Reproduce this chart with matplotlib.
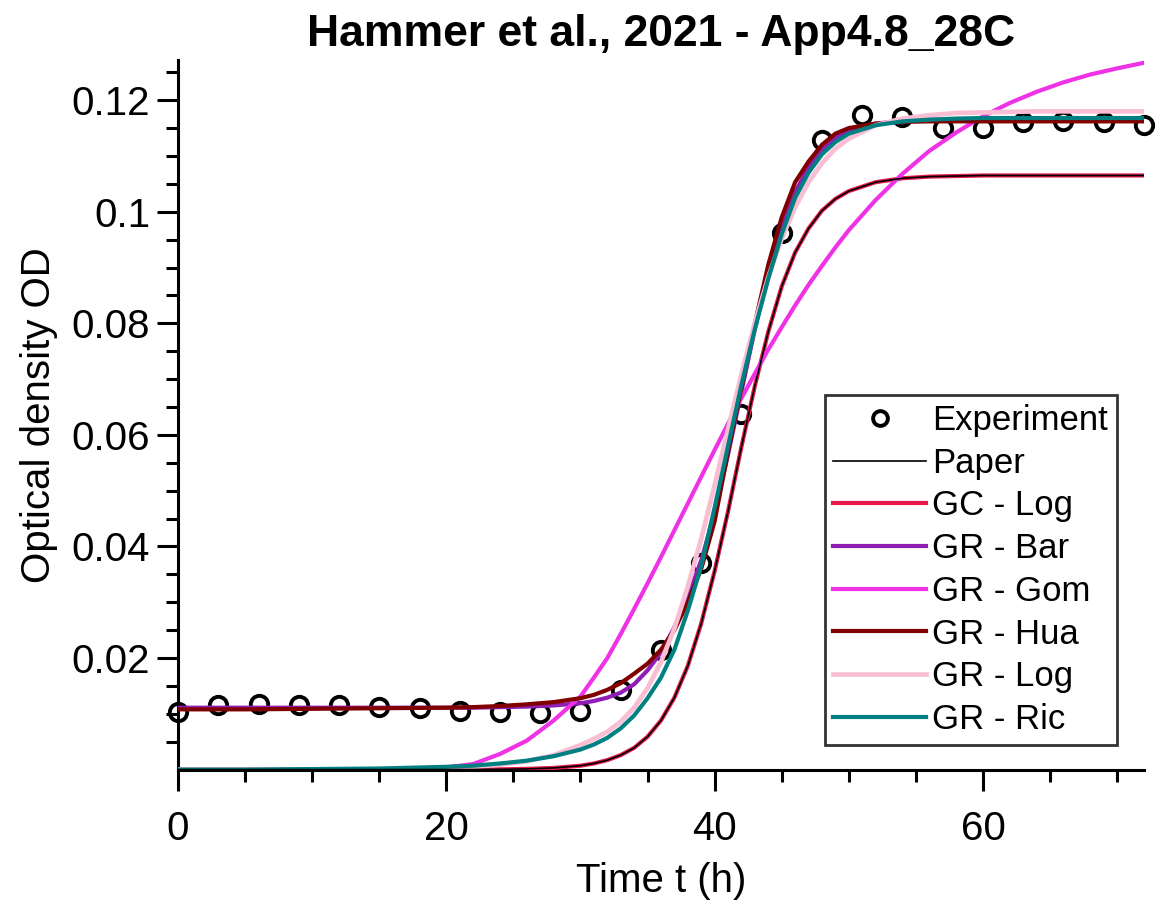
import matplotlib
matplotlib.use("Agg")
import matplotlib.pyplot as plt
from matplotlib.ticker import MultipleLocator, FixedLocator, FixedFormatter

plt.rcParams['font.family'] = ['Liberation Sans', 'DejaVu Sans']

# ---------------- data ----------------
t_exp = [0, 3, 6, 9, 12, 15, 18, 21, 24, 27, 30, 33, 36, 39, 42, 45, 48, 51,
         54, 57, 60, 63, 66, 69, 72]
od_exp = [0.0103, 0.0116, 0.0118, 0.0116, 0.0116, 0.0112, 0.0110, 0.0105,
          0.0103, 0.0101, 0.0105, 0.0143, 0.0214, 0.0370, 0.0637, 0.0962,
          0.1128, 0.1173, 0.1169, 0.1150, 0.1150, 0.1160, 0.1162, 0.1160,
          0.1155]

t_model = [0, 5, 10, 15, 20, 22, 24, 26, 28, 30, 31, 32, 33, 34, 35, 36, 37,
           38, 39, 40, 41, 42, 43, 44, 45, 46, 47, 48, 49, 50, 52, 54, 56, 58,
           60, 62, 64, 66, 68, 70, 72]

od_paper = [0, 0, 0, 0, 0.00001, 0.00002, 0.00005, 0.00013, 0.0003, 0.0007,
            0.0011, 0.0017, 0.0026, 0.0039, 0.0059, 0.0088, 0.0129, 0.0186,
            0.0262, 0.0356, 0.0463, 0.0579, 0.0688, 0.0785, 0.0866, 0.0927,
            0.0970, 0.1002, 0.1023, 0.1037, 0.1053, 0.1060, 0.1063, 0.1064,
            0.1065, 0.1065, 0.1065, 0.1065, 0.1065, 0.1065, 0.1065]

od_gc_log = [0, 0, 0, 0, 0.00001, 0.00002, 0.00005, 0.00013, 0.0003, 0.0007,
             0.0011, 0.0017, 0.0026, 0.0039, 0.0059, 0.0088, 0.0129, 0.0186,
             0.0262, 0.0356, 0.0463, 0.0579, 0.0688, 0.0785, 0.0866, 0.0927,
             0.0970, 0.1002, 0.1023, 0.1037, 0.1053, 0.1060, 0.1063, 0.1064,
             0.1065, 0.1065, 0.1065, 0.1065, 0.1065, 0.1065, 0.1065]

od_gr_bar = [0.0111, 0.0111, 0.0111, 0.0111, 0.0111, 0.0111, 0.0112, 0.0113,
             0.0115, 0.0119, 0.0123, 0.0129, 0.0138, 0.0153, 0.0178, 0.0210,
             0.0255, 0.0310, 0.0375, 0.0460, 0.0565, 0.0678, 0.0790, 0.0890,
             0.0972, 0.1035, 0.1080, 0.1112, 0.1133, 0.1146, 0.1158, 0.1163,
             0.1165, 0.1165, 0.1165, 0.1165, 0.1165, 0.1165, 0.1165, 0.1165,
             0.1165]

od_gr_gom = [0, 0, 0, 0.00001, 0.0004, 0.0010, 0.0028, 0.0052, 0.0088,
             0.0131, 0.0165, 0.0200, 0.0243, 0.0288, 0.0334, 0.0381, 0.0429,
             0.0477, 0.0525, 0.0573, 0.0620, 0.0666, 0.0710, 0.0753, 0.0793,
             0.0832, 0.0869, 0.0903, 0.0936, 0.0967, 0.1021, 0.1068, 0.1109,
             0.1142, 0.1171, 0.1195, 0.1215, 0.1232, 0.1246, 0.1257, 0.1267]

od_gr_hua = [0.0108, 0.0108, 0.0109, 0.0110, 0.0111, 0.0112, 0.0114, 0.0117,
             0.0121, 0.0128, 0.0134, 0.0143, 0.0155, 0.0172, 0.0190, 0.0215,
             0.0250, 0.0300, 0.0360, 0.0445, 0.0570, 0.0685, 0.0800, 0.0905,
             0.0990, 0.1053, 0.1090, 0.1120, 0.1140, 0.1150, 0.1158, 0.1161,
             0.1162, 0.1162, 0.1162, 0.1162, 0.1162, 0.1162, 0.1162, 0.1162,
             0.1162]

od_gr_log = [0, 0, 0, 0.00002, 0.0003, 0.0005, 0.0009, 0.0015, 0.0026,
             0.0044, 0.0055, 0.0068, 0.0086, 0.0111, 0.0146, 0.0193, 0.0253,
             0.0328, 0.0414, 0.0510, 0.0610, 0.0709, 0.0801, 0.0883, 0.0952,
             0.1008, 0.1053, 0.1087, 0.1113, 0.1131, 0.1155, 0.1167, 0.1173,
             0.1177, 0.1178, 0.1179, 0.1180, 0.1180, 0.1180, 0.1180, 0.1180]

od_gr_ric = [0, 0, 0.0001, 0.0002, 0.0005, 0.0007, 0.0011, 0.0016, 0.0024,
             0.0036, 0.0045, 0.0057, 0.0074, 0.0097, 0.0128, 0.0165, 0.0215,
             0.0285, 0.0365, 0.0470, 0.0580, 0.0690, 0.0790, 0.0880, 0.0960,
             0.1025, 0.1070, 0.1103, 0.1125, 0.1140, 0.1155, 0.1162, 0.1165,
             0.1167, 0.1168, 0.1168, 0.1168, 0.1168, 0.1168, 0.1168, 0.1168]

x_major = [0, 20, 40, 60]
y_major = [0.02, 0.04, 0.06, 0.08, 0.1, 0.12]
y_labels = ["0.02", "0.04", "0.06", "0.08", "0.1", "0.12"]

# ---------------- figure ----------------
fig = plt.figure(figsize=(11.59, 9.05), dpi=100)
ax = fig.add_axes([0.1536, 0.1496, 0.8334, 0.7841])

LW = 3.0
h_exp, = ax.plot(t_exp, od_exp, linestyle='none', marker='o', ms=12.5,
                 mfc='none', mec='black', mew=2.8, clip_on=False, zorder=2,
                 label='Experiment')
h_gc, = ax.plot(t_model, od_gc_log, color='#e6194b', lw=LW, zorder=3,
                label='GC - Log')
h_paper, = ax.plot(t_model, od_paper, color='black', lw=1.2, zorder=4,
                   label='Paper')
h_bar, = ax.plot(t_model, od_gr_bar, color='#911eb4', lw=LW, zorder=3,
                 label='GR - Bar')
h_gom, = ax.plot(t_model, od_gr_gom, color='#f032e6', lw=LW, zorder=3,
                 label='GR - Gom')
h_hua, = ax.plot(t_model, od_gr_hua, color='#800000', lw=LW, zorder=3,
                 label='GR - Hua')
h_log, = ax.plot(t_model, od_gr_log, color='#fabed4', lw=LW + 0.4, zorder=3,
                 label='GR - Log')
h_ric, = ax.plot(t_model, od_gr_ric, color='#008080', lw=LW, zorder=3,
                 label='GR - Ric')

ax.set_xlim(0, 72)
ax.set_ylim(0, 0.1272)

for s in ['top', 'right']:
    ax.spines[s].set_visible(False)
for s in ['left', 'bottom']:
    ax.spines[s].set_linewidth(2.2)

ax.xaxis.set_major_locator(FixedLocator(x_major))
ax.xaxis.set_minor_locator(MultipleLocator(5))
ax.yaxis.set_major_locator(FixedLocator(y_major))
ax.yaxis.set_major_formatter(FixedFormatter(y_labels))
ax.yaxis.set_minor_locator(FixedLocator([0.005 * i for i in range(1, 26)]))

ax.tick_params(which='major', direction='out', length=15, width=2.2,
               labelsize=29)
ax.tick_params(which='minor', direction='out', length=8.5, width=2.2)
ax.tick_params(axis='x', which='major', pad=14)
ax.tick_params(axis='y', which='major', pad=5)

ax.set_xlabel('Time t (h)', fontsize=29, labelpad=10)
ax.set_ylabel('Optical density OD', fontsize=29, labelpad=10)
ax.set_title('Hammer et al., 2021 - App4.8_28C', fontsize=32,
             fontweight='bold', pad=10)

leg = ax.legend(handles=[h_exp, h_paper, h_gc, h_bar, h_gom, h_hua, h_log,
                         h_ric],
                loc='lower right', bbox_to_anchor=(0.972, 0.035),
                fontsize=25, markerscale=0.85, handlelength=2.65,
                handletextpad=0.2, labelspacing=0.28, borderpad=0.25,
                borderaxespad=0.0, fancybox=False, framealpha=1,
                edgecolor='#333333')
leg.get_frame().set_linewidth(2.0)

fig.savefig('out.png', dpi=100)
